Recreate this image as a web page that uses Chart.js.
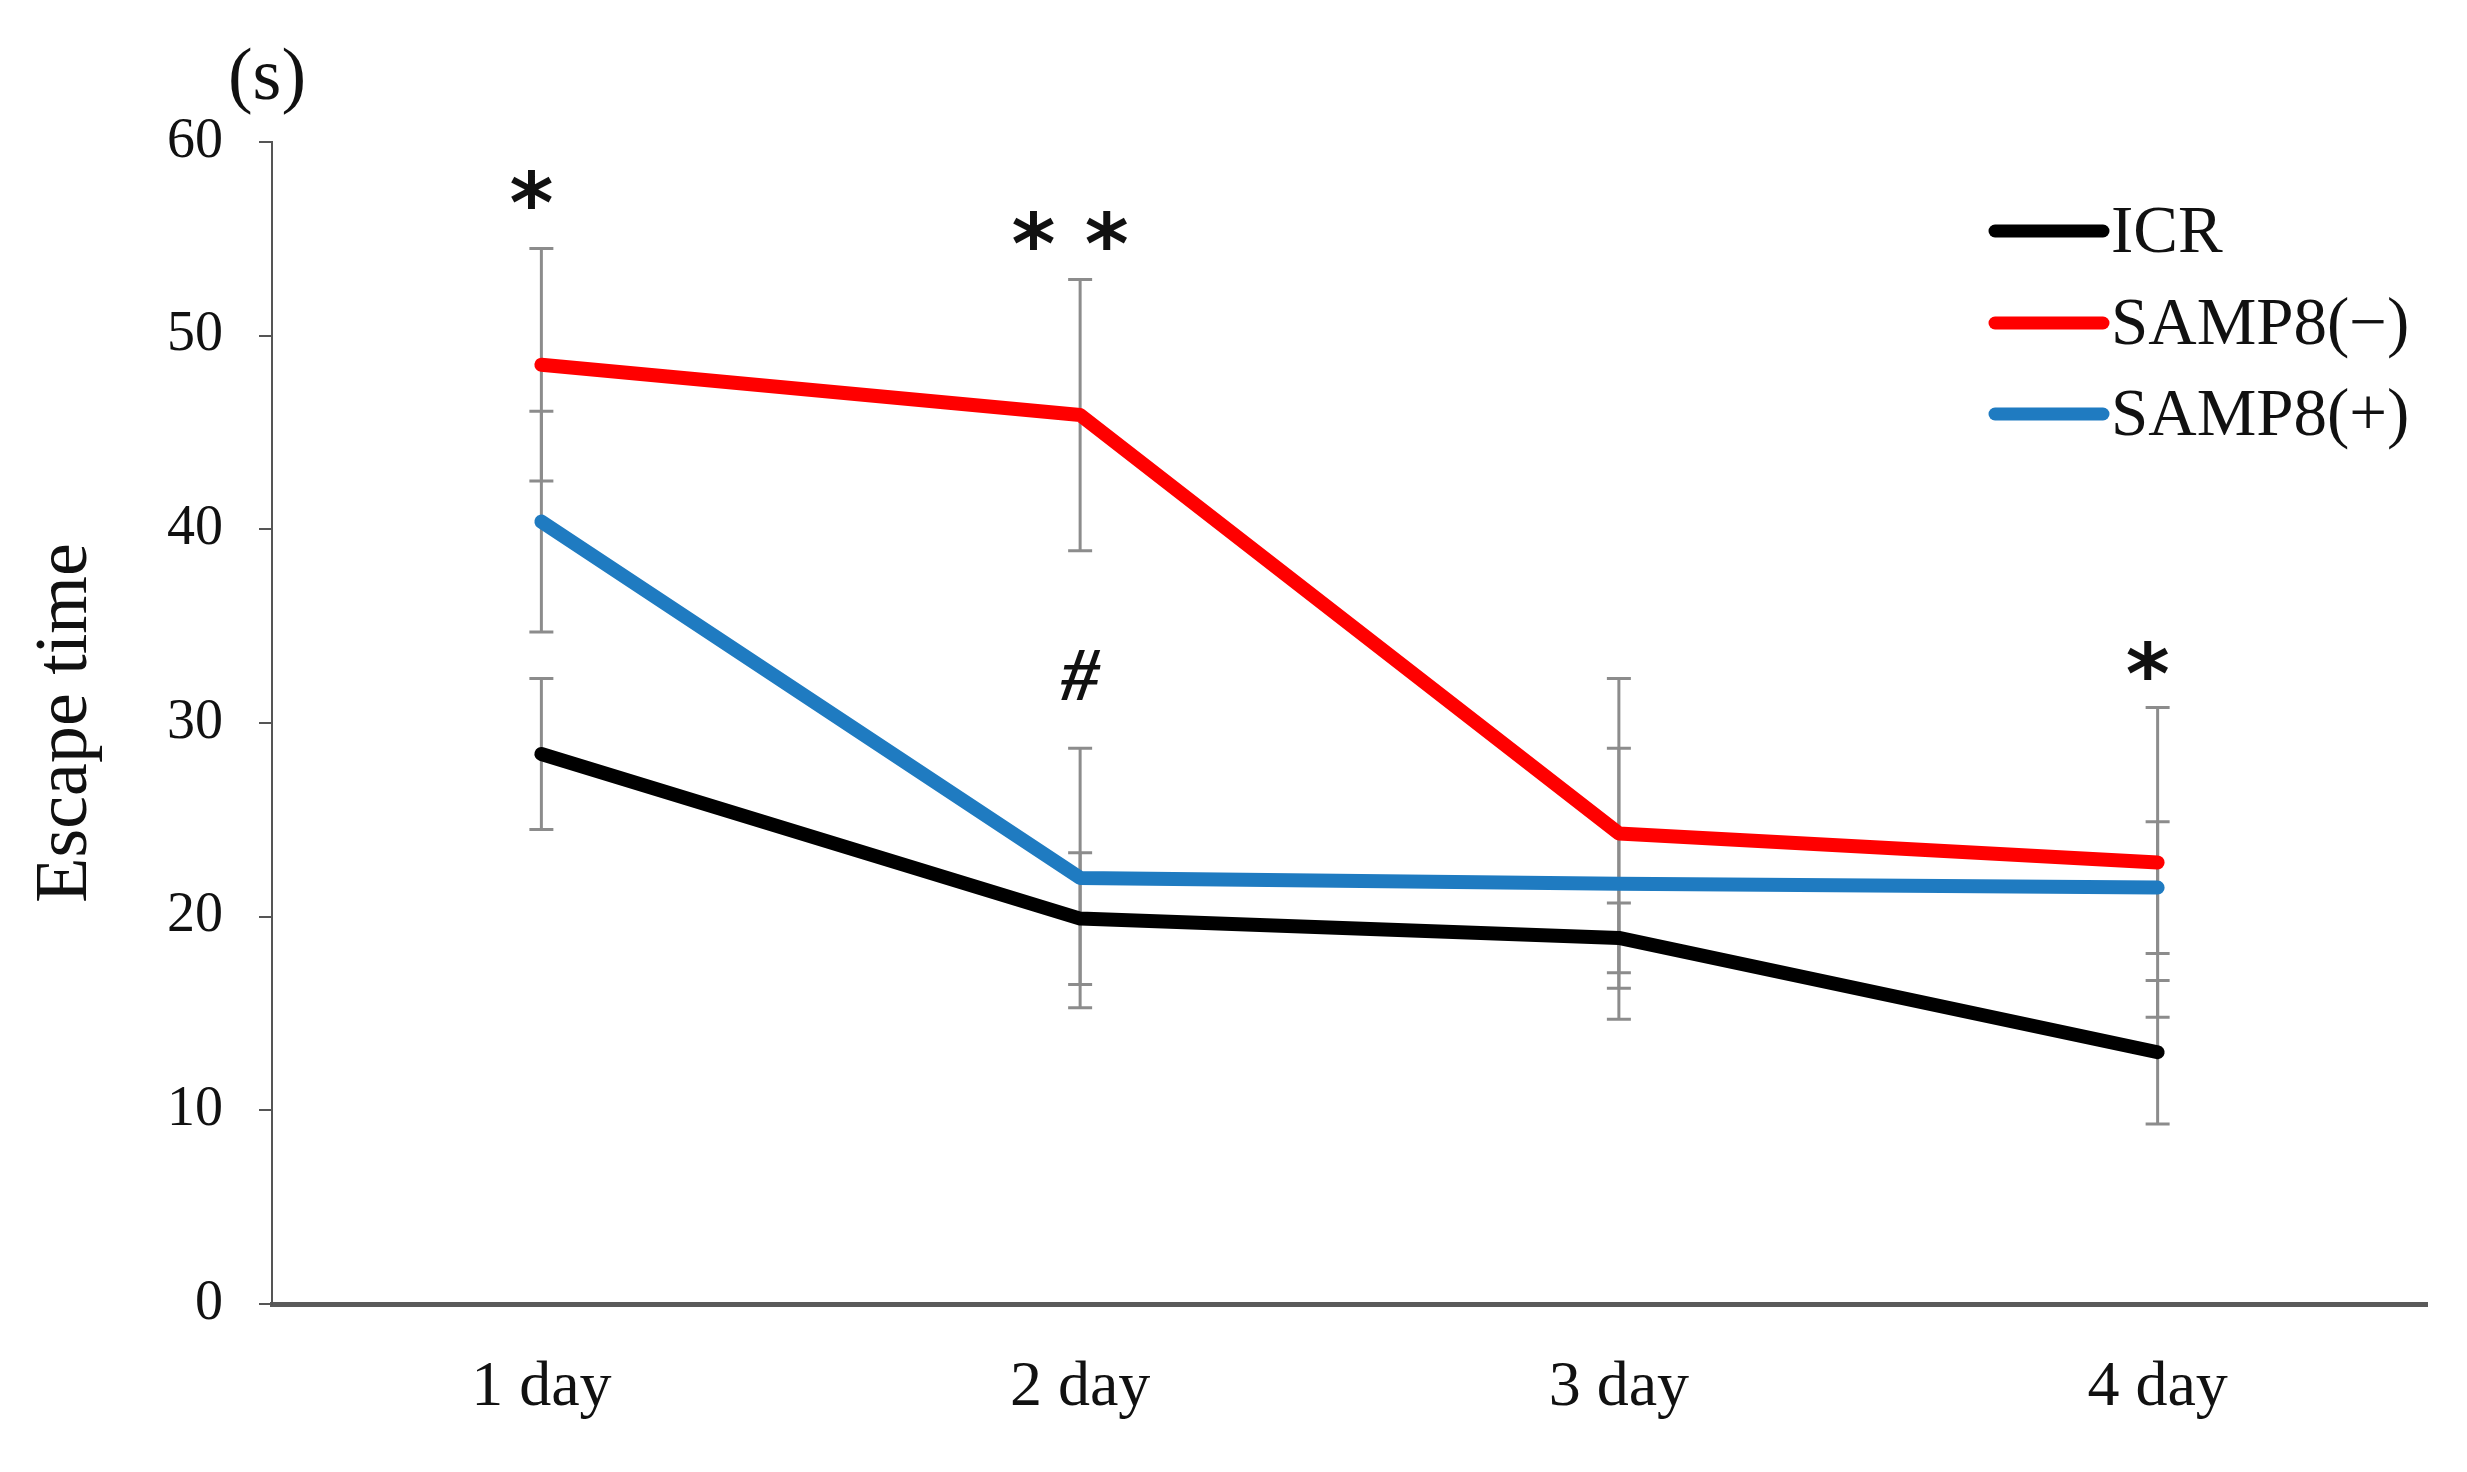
<!DOCTYPE html>
<html>
<head>
<meta charset="utf-8">
<script src="https://cdn.jsdelivr.net/npm/chart.js@4.4.1/dist/chart.umd.min.js"></script>
<style>
html, body { margin: 0; padding: 0; background: #fff; }
#wrap { width: 2467px; height: 1472px; }
</style>
</head>
<body>
<div id="wrap"><canvas id="chart"></canvas></div>
<script>
const days = ['1 day', '2 day', '3 day', '4 day'];
const seriesNames = ['ICR', 'SAMP8(−)', 'SAMP8(+)'];
const icr = [28.4, 19.9, 18.9, 13.0];
const sampMinus = [48.5, 45.9, 24.3, 22.8];
const sampPlus = [40.4, 22.0, 21.7, 21.5];
const icrErr = [3.9, 3.4, 1.8, 3.7];
const sampMinusErr = [6.0, 7.0, 8.0, 8.0];
const sampPlusErr = [5.7, 6.7, 7.0, 3.4];
const colors = ['#000000', '#ff0000', '#1f7bc1'];

// significance marks above the bars
const marks = ['*', '* *', '#', '*'];
const markDay = [0, 1, 1, 3];
const markValue = [57.2, 55.1, 32.2, 32.9];

const serif = '"Liberation Serif", "DejaVu Serif", serif';

const errorBars = {
  id: 'errorBars',
  beforeDatasetsDraw(chart) {
    const { ctx, scales: { x, y } } = chart;
    ctx.save();
    ctx.strokeStyle = '#8c8c8c';
    ctx.lineWidth = 3;
    chart.data.datasets.forEach(ds => {
      ds.data.forEach((v, i) => {
        const e = ds.err[i];
        const px = x.getPixelForValue(i);
        const top = y.getPixelForValue(v + e);
        const bot = y.getPixelForValue(v - e);
        ctx.beginPath();
        ctx.moveTo(px, top); ctx.lineTo(px, bot);
        ctx.moveTo(px - 12, top); ctx.lineTo(px + 12, top);
        ctx.moveTo(px - 12, bot); ctx.lineTo(px + 12, bot);
        ctx.stroke();
      });
    });
    ctx.restore();
  }
};

const extras = {
  id: 'extras',
  afterDraw(chart) {
    const { ctx, chartArea, scales: { x, y } } = chart;
    ctx.save();
    // unit label
    ctx.fillStyle = '#111';
    ctx.font = '74px ' + serif;
    ctx.textAlign = 'center';
    ctx.textBaseline = 'middle';
    ctx.fillText('(s)', chartArea.left - 5, 80);

    // significance marks
    marks.forEach((m, i) => {
      const px = x.getPixelForValue(markDay[i]);
      const py = y.getPixelForValue(markValue[i]);
      if (m === '#') {
        ctx.font = 'italic bold 76px ' + serif;
        ctx.fillText(m, px, py);
      } else {
        ctx.font = 'bold 84px "DejaVu Sans", sans-serif';
        ctx.fillText(m, px - 10, py + 14);
      }
    });

    // legend
    const lx0 = chartArea.right - 432;
    const lx1 = lx0 + 108;
    const ly = [231, 323, 414];
    chart.data.datasets.forEach((ds, i) => {
      ctx.strokeStyle = ds.borderColor;
      ctx.lineWidth = 13;
      ctx.lineCap = 'round';
      ctx.beginPath();
      ctx.moveTo(lx0, ly[i]);
      ctx.lineTo(lx1, ly[i]);
      ctx.stroke();
      ctx.fillStyle = '#111';
      ctx.font = '67px ' + serif;
      ctx.textAlign = 'left';
      ctx.textBaseline = 'middle';
      ctx.fillText(ds.label, lx1 + 8, ly[i] + 3);
    });
    ctx.restore();
  }
};

const ctx = document.getElementById('chart').getContext('2d');

const chart = new Chart(ctx, {
  type: 'line',
  data: {
    labels: days,
    datasets: [
      { label: seriesNames[0], data: icr, err: icrErr, borderColor: colors[0] },
      { label: seriesNames[1], data: sampMinus, err: sampMinusErr, borderColor: colors[1] },
      { label: seriesNames[2], data: sampPlus, err: sampPlusErr, borderColor: colors[2] },
    ].map(d => Object.assign(d, {
      borderWidth: 14,
      borderCapStyle: 'round',
      borderJoinStyle: 'round',
      pointRadius: 0,
      tension: 0,
      fill: false,
    })),
  },
  options: {
    responsive: true,
    maintainAspectRatio: false,
    animation: false,
    layout: { padding: { left: 20, right: 40, top: 142, bottom: 0 } },
    plugins: {
      legend: { display: false },
      tooltip: { enabled: false },
    },
    scales: {
      x: {
        offset: true,
        grid: { display: false, drawTicks: false },
        border: { display: true, color: '#5a5a5a', width: 5 },
        ticks: { color: '#111', padding: 46, font: { family: serif, size: 64 } },
        afterFit: (s) => { s.height = 168; },
      },
      y: {
        min: 0,
        max: 60,
        ticks: { stepSize: 10, color: '#111', padding: 36, font: { family: serif, size: 56 } },
        grid: { drawOnChartArea: false, drawTicks: true, tickLength: 13, color: '#555', lineWidth: 2 },
        border: { display: true, color: '#555', width: 2 },
        title: { display: true, text: 'Escape time', color: '#111', padding: 2, font: { family: serif, size: 74 } },
        afterFit: (s) => { s.width = 252; },
      },
    },
  },
  plugins: [errorBars, extras],
});
</script>
</body>
</html>
